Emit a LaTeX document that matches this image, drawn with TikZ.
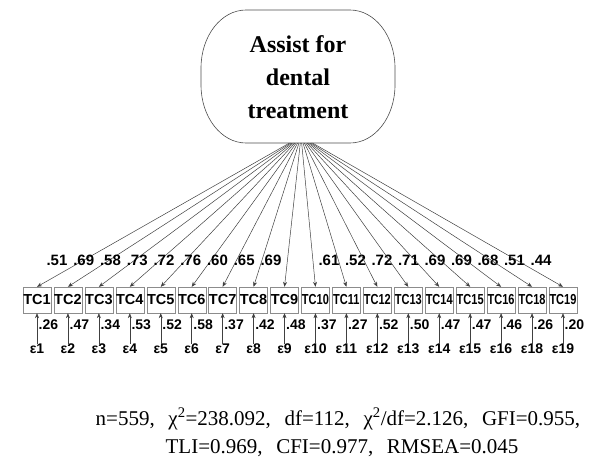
\documentclass[tikz,border=0pt]{standalone}
\usepackage{fontspec}
\setmainfont{Liberation Serif}
\setsansfont{Liberation Sans}
\usetikzlibrary{arrows.meta}
\begin{document}
\begin{tikzpicture}[x=1pt,y=-1pt,
  obs/.style={draw=black!45, fill=white, minimum width=28pt, minimum height=26pt, inner sep=0pt, font=\sffamily\bfseries\fontsize{14.5}{14.5}\selectfont},
  lat/.style={inner sep=0pt, align=center, font=\bfseries\fontsize{24}{33}\selectfont},
  latborder/.style={draw=black!70, line width=0.6pt},
  ld/.style={draw=black!75, line width=0.5pt, -{Stealth[length=5pt,width=4pt]}},
  lab/.style={font=\sffamily\bfseries\fontsize{15}{15}\selectfont, inner sep=0pt},
  res/.style={font=\sffamily\bfseries\fontsize{14}{14}\selectfont, inner sep=0pt},
  fit/.style={font=\fontsize{21}{21}\selectfont, inner sep=0pt, anchor=base}
]
\useasboundingbox (0,0) rectangle (589,460);
\draw[latborder] (246,10) -- (350,10)
  arc[start angle=-90,end angle=0,x radius=45,y radius=58] -- (395,85)
  arc[start angle=0,end angle=90,x radius=45,y radius=58] -- (246,143)
  arc[start angle=90,end angle=180,x radius=45,y radius=58] -- (201,68)
  arc[start angle=180,end angle=270,x radius=45,y radius=58] -- cycle;
\node[lat] (lat) at (298,77) {Assist for\\ dental\\ treatment};
\foreach \k/\t/\e/\r/\l in {1/TC1/1/.26/.51, 2/TC2/2/.47/.69, 3/TC3/3/.34/.58, 4/TC4/4/.53/.73, 5/TC5/5/.52/.72, 6/TC6/6/.58/.76, 7/TC7/7/.37/.60, 8/TC8/8/.42/.65, 9/TC9/9/.48/.69, 10/TC10/10/.37/.61, 11/TC11/11/.27/.52, 12/TC12/12/.52/.72, 13/TC13/13/.50/.71, 14/TC14/14/.47/.69, 15/TC15/15/.47/.69, 16/TC16/16/.46/.68, 17/TC18/18/.26/.51, 18/TC19/19/.20/.44} {
  \pgfmathsetmacro{\cx}{37+30.94*(\k-1)}
  \pgfmathsetmacro{\sx}{\k<10 ? 1 : 0.76}
  \coordinate (s\k) at ({289.5+1.35*(\k-1)},143);
  \node[obs] (tc\k) at (\cx,300) {\scalebox{\sx}[1]{\t}};
  \draw[ld] (s\k) -- (tc\k.north);
  \node[res] (e\k) at (\cx,349) {ε\e};
  \draw[ld] (e\k.north) -- (tc\k.south);
  \node[res, anchor=west] (r\k) at ({\cx+1.5},325) {\r};
  \pgfmathsetmacro{\lx}{\k<10 ? 57+26.75*(\k-1) : 329+26.5*(\k-10)}
  \node[lab] (l\k) at (\lx,260) {\l};
}
\node[fit] (f1) at (338,425) {n=559,\hspace{0.4em} χ\textsuperscript{2}=238.092,\hspace{0.4em} df=112,\hspace{0.4em} χ\textsuperscript{2}/df=2.126,\hspace{0.4em} GFI=0.955,};
\node[fit] (f2) at (342,453) {TLI=0.969,\hspace{0.4em} CFI=0.977,\hspace{0.4em} RMSEA=0.045};
\end{tikzpicture}
\end{document}
